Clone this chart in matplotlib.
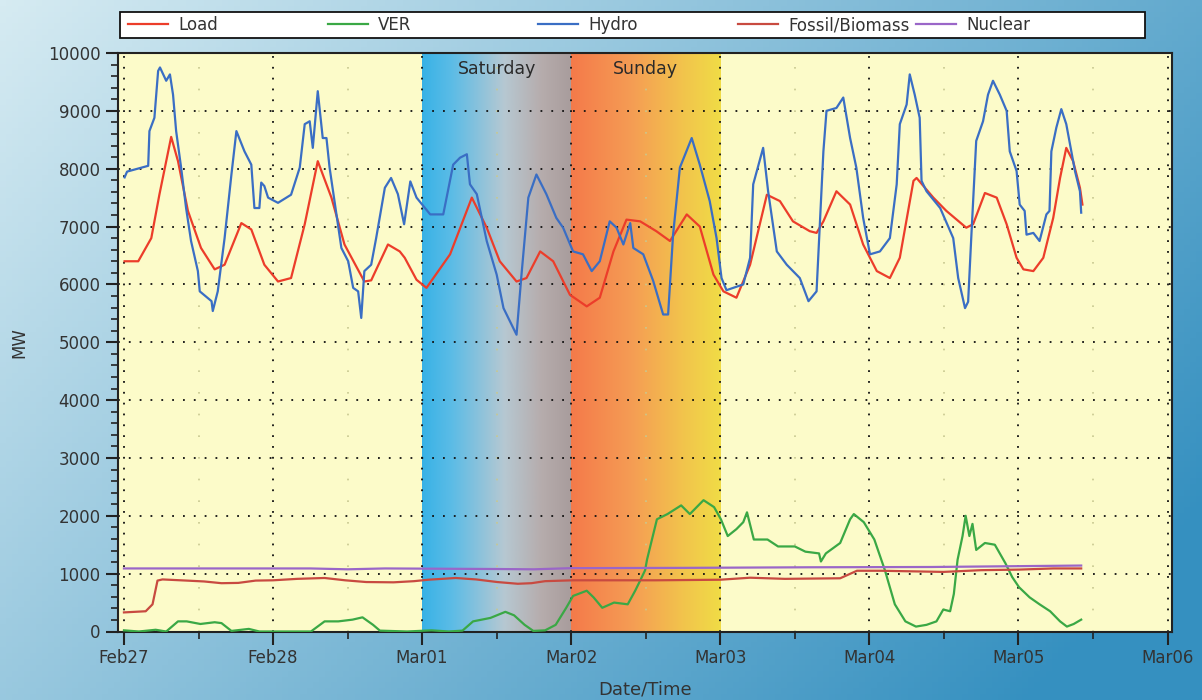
import numpy as np
import matplotlib
matplotlib.use("Agg")
import matplotlib.pyplot as plt
from matplotlib.colors import LinearSegmentedColormap, to_rgb
from matplotlib.patches import Rectangle

# hours since Feb27 00:00, values in MW
load_h = [0.1, 2.3, 4.4, 5.7, 7.6, 8.7, 10.3, 12.4, 14.6, 16.2, 18.9, 20.5, 22.6, 24.8,
          26.9, 29.1, 31.2, 33.4, 35.5, 38.7, 39.8, 42.5, 44.4, 45.2, 47.1, 48.7, 52.5,
          56.0, 58.4, 60.5, 63.2, 64.8, 67.0, 69.1, 71.8, 74.5, 76.6, 78.8, 80.9, 83.1,
          85.7, 87.9, 90.6, 92.7, 94.9, 96.5, 98.6, 100.8, 103.5, 105.6, 107.7, 110.4,
          111.5, 112.6, 114.7, 116.9, 119.0, 121.2, 123.3, 124.9, 127.1, 127.6, 130.3,
          132.4, 135.6, 136.7, 138.6, 140.5, 142.1, 143.7, 144.8, 146.4, 148.0, 149.6,
          150.7, 151.7, 152.8, 153.9, 154.3]
load_mw = [6400, 6400, 6800, 7550, 8550, 8130, 7270, 6630, 6260, 6340, 7060, 6950, 6340, 6050,
           6110, 7040, 8130, 7500, 6690, 6050, 6070, 6690, 6570, 6460, 6080, 5940, 6520,
           7500, 6980, 6400, 6050, 6110, 6570, 6400, 5820, 5620, 5770, 6570, 7120, 7090,
           6920, 6750, 7210, 7000, 6170, 5880, 5770, 6340, 7550, 7440, 7090, 6920,
           6890, 7090, 7610, 7380, 6690, 6230, 6110, 6460, 7790, 7840, 7500,
           7270, 6980, 7040, 7580, 7500, 7040, 6460, 6260, 6230, 6460, 7150,
           7840, 8360, 8130, 7670, 7380]

hydro_h = [0.1, 0.5, 3.9, 4.1, 4.9, 5.5, 5.8, 6.8, 7.4, 7.9, 8.4, 9.2, 10.0, 10.8, 11.9, 12.2,
           14.1, 14.3, 15.1, 16.2, 17.3, 18.1, 19.4, 20.5, 21.0, 21.8, 22.1, 22.6, 23.2, 24.8,
           26.9, 28.3, 29.1, 29.9, 30.4, 31.2, 32.0, 32.6, 33.1, 34.2, 35.0, 36.1, 36.9, 37.7,
           38.2, 38.7, 39.8, 40.6, 42.0, 43.0, 44.1, 45.1, 46.1, 47.1, 49.3, 51.4, 53.0, 54.1,
           55.2, 55.7, 56.8, 58.4, 60.0, 61.1, 63.2, 64.0, 65.1, 66.4, 68.0, 69.6, 70.7, 72.3,
           73.9, 75.3, 76.6, 78.2, 79.3, 80.4, 81.5, 82.0, 83.6, 85.2, 86.8, 87.6, 88.4, 89.5,
           91.4, 92.7, 94.3, 95.4, 96.2, 97.0, 99.7, 100.8, 101.3, 102.9, 103.7, 105.1, 106.7,
           108.8, 110.2, 111.5, 112.6, 113.1, 114.7, 115.8, 116.9, 117.9, 119.0, 120.1, 121.7,
           123.3, 124.4, 124.9, 126.0, 126.5, 127.3, 128.1, 128.4, 129.2, 131.4, 133.5, 134.3,
           135.4, 135.9, 136.4, 137.2, 138.3, 139.1, 139.9, 141.0, 142.1, 142.6, 143.7, 144.2,
           145.0, 145.3, 146.4, 147.4, 148.5, 149.0, 149.3, 150.1, 150.9, 151.7, 152.3, 153.1,
           153.9, 154.1]
hydro_mw = [7850, 7950, 8050, 8650, 8880, 9690, 9750, 9520, 9630, 9280, 8650, 8020, 7320, 6750,
            6230, 5880, 5710, 5540, 5880, 6800, 7900, 8650, 8300, 8070, 7320, 7320, 7760, 7700,
            7500, 7410, 7550, 8020, 8770, 8820, 8360, 9340, 8530, 8530, 8020, 7210, 6630, 6400,
            5940, 5880, 5420, 6230, 6340, 6800, 7670, 7840, 7560, 7040, 7780, 7500, 7210, 7210,
            8070, 8190, 8250, 7730, 7560, 6750, 6170, 5590, 5130, 6170, 7500, 7900, 7560, 7150,
            6980, 6570, 6520, 6230, 6400, 7090, 6980, 6690, 7060, 6630, 6520, 6060, 5480, 5480,
            6860, 8020, 8530, 8070, 7440, 6800, 6110, 5900, 6000, 6460, 7730, 8360, 7610, 6570,
            6340, 6110, 5710, 5880, 8300, 9000, 9050, 9230, 8530, 8020, 7150, 6520, 6570, 6800,
            7730, 8770, 9110, 9630, 9280, 8880, 7790, 7610, 7320, 6800, 6110, 5590, 5700, 6800,
            8480, 8820, 9280, 9520, 9280, 9000, 8300, 7960, 7380, 7270, 6860, 6890, 6750, 7210,
            7270, 8300, 8710, 9030, 8770, 8420, 7960, 7610, 7240]

ver_h = [0, 2.4, 5.1, 6.8, 8.7, 10.1, 12.3, 14.6, 15.7, 17.3, 20.1, 21.8, 30.1, 32.3, 34.5,
         36.8, 38.4, 40.1, 41.2, 45.6, 49.5, 52.3, 54.5, 56.2, 59.0, 61.4, 62.8, 64.5, 65.9,
         67.8, 69.5, 71.2, 72.3, 74.5, 75.6, 77.0, 78.9, 81.1, 82.3, 83.1, 83.9, 84.2, 85.8,
         87.5, 89.7, 91.1, 93.3, 95.0, 96.1, 97.2, 98.6, 99.7, 100.3, 101.4, 103.6, 105.3,
         108.0, 109.7, 111.9, 112.2, 113.0, 115.3, 116.9, 117.5, 119.1, 120.8, 122.5, 124.1,
         125.8, 127.5, 129.2, 130.8, 131.9, 133.0, 133.6, 134.2, 135.0, 135.5, 136.1, 136.6,
         137.2, 138.6, 140.2, 141.9, 143.0, 144.1, 145.8, 147.4, 149.1, 150.7, 151.8, 152.9,
         154.1]
ver_mw = [20, 0, 30, 0, 175, 175, 130, 160, 145, 10, 45, 0, 0, 175, 175,
          205, 245, 115, 15, 0, 20, 0, 15, 175, 235, 340, 280, 115, 10,
          20, 115, 410, 615, 705, 590, 410, 500, 470, 705, 880, 1060, 1240, 1940,
          2030, 2180, 2030, 2270, 2150, 1940, 1650, 1770, 1890, 2060, 1590, 1590, 1470,
          1470, 1380, 1350, 1210, 1350, 1530, 1940, 2030, 1890, 1590, 1060, 470,
          175, 85, 115, 175, 380, 350, 650, 1240, 1650, 2000, 1650, 1860,
          1410, 1530, 1500, 1180, 940, 765, 590, 470, 350, 175, 85, 130,
          205]

fossil_h = [0, 3.5, 4.6, 5.4, 6.2, 10.1, 12.9, 15.7, 18.4, 21.2, 24.0, 27.9, 32.3, 35.6, 39.0,
            43.4, 46.7, 49.0, 53.4, 56.7, 60.1, 63.4, 65.6, 67.8, 72.3, 85.6, 96.0, 100.8,
            106.4, 115.3, 118.0, 121.9, 131.9, 138.0, 144.1, 149.6, 154.1]
fossil_mw = [330, 350, 470, 880, 900, 880, 865, 835, 840, 880, 885, 910, 925, 885, 855,
             850, 870, 895, 925, 900, 855, 825, 835, 870, 885, 885, 895, 930,
             910, 920, 1050, 1050, 1030, 1060, 1070, 1090, 1090]

nuclear_h = [0, 30, 36, 42, 60, 66, 72, 90, 110, 130, 154.1]
nuclear_mw = [1090, 1090, 1075, 1090, 1080, 1075, 1095, 1100, 1110, 1115, 1140]

day_labels = ["Feb27", "Feb28", "Mar01", "Mar02", "Mar03", "Mar04", "Mar05", "Mar06"]
series = [("Load", load_h, load_mw, "#ec3d2a"),
          ("VER", ver_h, ver_mw, "#3aa845"),
          ("Hydro", hydro_h, hydro_mw, "#3a6ec4"),
          ("Fossil/Biomass", fossil_h, fossil_mw, "#c84a40"),
          ("Nuclear", nuclear_h, nuclear_mw, "#9a66c8")]

W, H = 1202, 700
fig = plt.figure(figsize=(W / 100, H / 100), dpi=100)

# blue page background
bg = fig.add_axes([0, 0, 1, 1], zorder=-10)
gx, gy = np.meshgrid(np.linspace(0, 1, 200), np.linspace(0, 1, 120))
t = np.clip(0.72 * gx + 0.38 * gy, 0, 1)[..., None]
c0 = np.array(to_rgb("#d6ebf2"))
c1 = np.array(to_rgb("#3590c0"))
bg.imshow(c0 * (1 - t) + c1 * t, aspect="auto", extent=(0, 1, 0, 1), origin="upper")
bg.axis("off")

ax = fig.add_axes([118 / W, 1 - 631.5 / H, (1172 - 118) / W, (631.5 - 53) / H])
ax.set_facecolor("#fcfbc9")

sat = LinearSegmentedColormap.from_list("sat", [(0, "#38b2e6"), (0.2, "#5cbce6"), (0.55, "#b6c8d2"),
                                                (0.8, "#b6acac"), (1, "#a89c9c")])
sun = LinearSegmentedColormap.from_list("sun", [(0, "#f47a4a"), (0.4, "#f59c54"), (0.75, "#f2c44c"),
                                                (1, "#f0dc46")])
grad = np.linspace(0, 1, 256)[None, :]
ax.imshow(grad, cmap=sat, aspect="auto", extent=(2, 3, 0, 10000), zorder=0.2)
ax.imshow(grad, cmap=sun, aspect="auto", extent=(3, 4, 0, 10000), zorder=0.2)
ax.text(2.5, 9720, "Saturday", ha="center", va="center", fontsize=12.5, color="#2a2a2a")
ax.text(3.5, 9720, "Sunday", ha="center", va="center", fontsize=12.5, color="#2a2a2a")

handles = []
for name, h, mw, col in series:
    ln, = ax.plot(np.array(h) / 24.0, mw, color=col, lw=1.6, label=name, zorder=3)
    handles.append(ln)

ax.set_xlim(-0.04, 7.03)
ax.set_ylim(0, 10000)
ax.set_xticks(range(8))
ax.set_xticklabels(day_labels)
ax.set_xticks(np.arange(0.5, 7, 1), minor=True)
ax.set_yticks(range(0, 10001, 1000))
ax.set_yticks(range(0, 10001, 200), minor=True)
ax.tick_params(which="major", length=9, width=1.5, colors="#222222", labelsize=12,
               labelcolor="#333333")
ax.tick_params(which="minor", length=5, width=1.2, colors="#222222")
ax.grid(which="major", color="#111111", linestyle=(0, (1, 5)), linewidth=1.3)
ax.grid(which="minor", axis="x", color="#c8c890", linestyle=(0, (1, 12)), linewidth=1.2)
for s in ax.spines.values():
    s.set_color("#222222")
    s.set_linewidth(1.5)

ax.set_ylabel("MW", fontsize=12, color="#333333", labelpad=14)
ax.set_xlabel("Date/Time", fontsize=13, color="#333333", labelpad=10)

# legend: white box across the top, entries at fixed slots
fig.patches.append(Rectangle((120 / W, 1 - 38 / H), 1025 / W, 26 / H, transform=fig.transFigure,
                             facecolor="white", edgecolor="#111111", linewidth=1.3, zorder=5))
legend_x = [128, 328, 538, 738, 916]
for hd, lx in zip(handles, legend_x):
    lg = fig.legend(handles=[hd], loc="center left", bbox_to_anchor=(lx / W, 1 - 25 / H),
                    frameon=False, fontsize=12, handlelength=2.4, handletextpad=0.6,
                    borderpad=0, borderaxespad=0)
    lg.set_zorder(6)
    for txt in lg.get_texts():
        txt.set_color("#333333")

fig.savefig("out.png", dpi=100)
